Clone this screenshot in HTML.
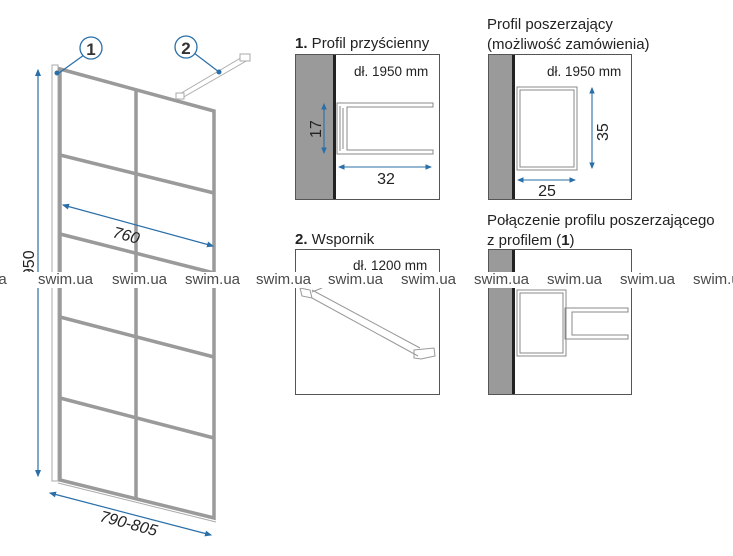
<!DOCTYPE html>
<html><head><style>body{margin:0;background:#fff}svg{display:block}</style></head><body>
<svg width="733" height="556" viewBox="0 0 733 556" font-family="Liberation Sans, sans-serif">
<defs><marker id="a" markerWidth="6" markerHeight="6" refX="5" refY="3" orient="auto-start-reverse"><path d="M0,0.5 L6,3 L0,5.5z" fill="#2a6fa8"/></marker></defs>
<g fill="none" stroke="#999">
<rect x="52" y="65" width="6" height="416" stroke="#aaa" fill="#fff"/>
<g stroke="#9a9a9a" stroke-width="3.5">
<path d="M60,69 L214,111 L214,518 L60,480 Z"/>
<line x1="136" y1="90" x2="136" y2="499"/>
<line x1="60" y1="155" x2="214" y2="193"/>
<line x1="60" y1="234" x2="214" y2="273"/>
<line x1="60" y1="317" x2="214" y2="357"/>
<line x1="60" y1="398" x2="214" y2="438"/>
</g>
<line x1="58" y1="483" x2="216" y2="522" stroke="#aaa"/>
<path d="M178,95 L244,56 M182,98 L248,60" stroke="#aaa"/>
<rect x="176" y="93" width="8" height="6" fill="#fff" stroke="#aaa"/>
<rect x="240" y="54" width="10" height="7" fill="#fff" stroke="#aaa"/>
</g>
<g stroke="#2a6fa8" stroke-width="1.2" fill="none">
<line x1="38" y1="70" x2="38" y2="476" marker-start="url(#a)" marker-end="url(#a)"/>
<line x1="63" y1="205" x2="213" y2="246" marker-start="url(#a)" marker-end="url(#a)"/>
<line x1="50" y1="493" x2="211" y2="535" marker-start="url(#a)" marker-end="url(#a)"/>
<line x1="84" y1="55" x2="59" y2="73"/>
<line x1="194" y1="53" x2="219" y2="72"/>
</g>
<circle cx="57" cy="73" r="2.5" fill="#2a6fa8"/><circle cx="219" cy="72" r="2.5" fill="#2a6fa8"/>
<circle cx="91" cy="48" r="11" fill="#fff" stroke="#2a6fa8" stroke-width="1.3"/>
<circle cx="186" cy="47" r="11" fill="#fff" stroke="#2a6fa8" stroke-width="1.3"/>
<text x="91" y="55" font-size="17" font-weight="bold" text-anchor="middle" fill="#333">1</text>
<text x="186" y="54" font-size="17" font-weight="bold" text-anchor="middle" fill="#333">2</text>
<text transform="translate(34,286) rotate(-90)" font-size="16" fill="#222">1950</text>
<text transform="translate(112,237) rotate(15)" font-size="16" font-style="italic" fill="#222">760</text>
<text transform="translate(99,521) rotate(15)" font-size="16" font-style="italic" fill="#222">790-805</text>

<g font-size="15" fill="#222">
<text x="295" y="48"><tspan font-weight="bold">1.</tspan> Profil przyścienny</text>
<text x="487" y="29">Profil poszerzający</text>
<text x="487" y="49">(możliwość zamówienia)</text>
<text x="295" y="244"><tspan font-weight="bold">2.</tspan> Wspornik</text>
<text x="487" y="225">Połączenie profilu poszerzającego</text>
<text x="487" y="245">z profilem (<tspan font-weight="bold">1</tspan>)</text>
</g>
<rect x="295.5" y="54.5" width="144" height="145" fill="#fff" stroke="#555"/>
<rect x="296" y="55" width="37" height="144" fill="#9a9a9a"/><rect x="333" y="55" width="3" height="144" fill="#222"/>
<text x="354" y="76" font-size="13.5" fill="#222">dł. 1950 mm</text>
<g fill="none" stroke="#888">
<path d="M337,103 H433 V107 H347 V150 H433 V154 H337 Z"/>
<path d="M340,106 V151 M343,108 V149"/>
</g>
<g stroke="#2a6fa8" stroke-width="1.1" fill="none">
<line x1="324" y1="104" x2="324" y2="153" marker-start="url(#a)" marker-end="url(#a)"/>
<line x1="339" y1="167" x2="431" y2="167" marker-start="url(#a)" marker-end="url(#a)"/>
</g>
<text transform="translate(321,138) rotate(-90)" font-size="16" fill="#222">17</text>
<text x="386" y="184" font-size="16" fill="#222" text-anchor="middle">32</text>
<rect x="488.5" y="54.5" width="143" height="145" fill="#fff" stroke="#555"/>
<rect x="489" y="55" width="23" height="144" fill="#9a9a9a"/><rect x="512" y="55" width="3" height="144" fill="#222"/>
<text x="547" y="76" font-size="13.5" fill="#222">dł. 1950 mm</text>
<g fill="none" stroke="#888"><rect x="517" y="87" width="60" height="83"/><rect x="520" y="90" width="54" height="77"/></g>
<g stroke="#2a6fa8" stroke-width="1.1" fill="none">
<line x1="592" y1="88" x2="592" y2="168" marker-start="url(#a)" marker-end="url(#a)"/>
<line x1="518" y1="180" x2="575" y2="180" marker-start="url(#a)" marker-end="url(#a)"/>
</g>
<text transform="translate(608,141) rotate(-90)" font-size="16" fill="#222">35</text>
<text x="547" y="196" font-size="16" fill="#222" text-anchor="middle">25</text>
<rect x="295.5" y="249.5" width="144" height="145" fill="#fff" stroke="#555"/>
<text x="353" y="270" font-size="13.5" fill="#222">dł. 1200 mm</text>
<g fill="none" stroke="#999">
<path d="M300,288 L310,290 L312,298 L302,296 Z"/>
<path d="M312,290 L420,348 M312,298 L418,356 M312,292 L322,288"/>
<path d="M414,350 L434,348 L435,356 L421,359 L414,358 Z"/>
</g>
<rect x="488.5" y="249.5" width="143" height="145" fill="#fff" stroke="#555"/>
<rect x="489" y="250" width="23" height="144" fill="#9a9a9a"/><rect x="512" y="250" width="3" height="144" fill="#222"/>
<g fill="none" stroke="#888">
<rect x="517" y="290" width="49" height="66"/><rect x="520" y="293" width="43" height="60"/>
<path d="M565,308 H628 V312 H572 V335 H628 V339 H565 Z"/>
</g>
<rect x="0" y="272" width="733" height="16" fill="#fff"/>
<g font-size="15" fill="#4a4a4a">
<text x="-10" y="284">ua</text>
<text x="38" y="284">swim.ua</text><text x="112" y="284">swim.ua</text><text x="185" y="284">swim.ua</text>
<text x="256" y="284">swim.ua</text><text x="328" y="284">swim.ua</text><text x="401" y="284">swim.ua</text>
<text x="474" y="284">swim.ua</text><text x="547" y="284">swim.ua</text><text x="620" y="284">swim.ua</text><text x="693" y="284">swim.ua</text>
</g>
</svg>
</body></html>
